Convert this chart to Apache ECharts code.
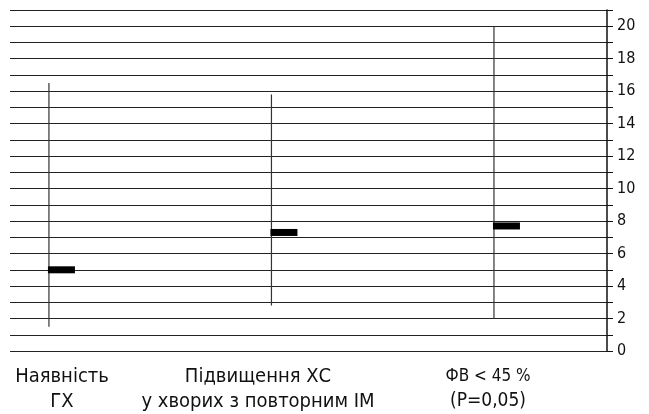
<!DOCTYPE html>
<html>
<head>
<meta charset="utf-8">
<script src="https://cdn.jsdelivr.net/npm/echarts@6/dist/echarts.min.js"></script>
<style>
  html, body { margin: 0; padding: 0; background: #fff; }
  #chart { width: 649px; height: 414px; }
</style>
</head>
<body>
<div id="chart"></div>
<script>
var categories = ['Наявність\nГХ', 'Підвищення ХС\nу хворих з повторним ІМ', '{s|ФВ < 45 %}\n(Р=0,05)'];
var lows = [1.5, 2.8, 2.0];
var highs = [16.5, 15.8, 20.0];
var means = [5.0, 7.3, 7.7];
var yTicks = [0, 2, 4, 6, 8, 10, 12, 14, 16, 18, 20];

var dom = document.getElementById('chart');
var chart = echarts.init(dom);

var data = [];
for (var i = 0; i < categories.length; i++) {
  data.push([i, lows[i], highs[i], means[i]]);
}

var font = '"Liberation Sans Narrow", "DejaVu Sans Condensed", "Noto Sans", sans-serif';

var option = {
  animation: false,
  grid: { left: 10, right: 42, top: 10, bottom: 63 },
  xAxis: {
    type: 'value',
    min: -0.175,
    max: 2.508,
    show: false
  },
  yAxis: {
    type: 'value',
    position: 'right',
    min: 0,
    max: 21,
    interval: 1,
    axisLine: { show: true, onZero: false, lineStyle: { color: '#111', width: 1.5 } },
    axisTick: { show: true, length: 6, lineStyle: { color: '#111' } },
    axisLabel: {
      margin: 10,
      color: '#111',
      fontSize: 16,
      fontFamily: font,
      formatter: function (v) {
        return yTicks.indexOf(v) >= 0 ? String(v) : '';
      }
    },
    splitLine: { show: true, lineStyle: { color: '#222', width: 1.2 } }
  },
  series: [{
    type: 'custom',
    data: data,
    renderItem: function (params, api) {
      var x = api.value(0);
      var lo = api.coord([x, api.value(1)]);
      var hi = api.coord([x, api.value(2)]);
      var m = api.coord([x, api.value(3)]);
      return {
        type: 'group',
        children: [{
          type: 'line',
          shape: { x1: lo[0], y1: lo[1], x2: hi[0], y2: hi[1] },
          style: { stroke: '#333', lineWidth: 1.2 }
        }, {
          type: 'rect',
          shape: { x: m[0] - 1, y: m[1] - 3.5, width: 27, height: 7 },
          style: { fill: '#000' }
        }]
      };
    }
  }]
};

// label positions below the plot (centre x of each text block)
var labelX = [62, 258, 488];
var labelSize = [20, 20, 19];
option.graphic = categories.map(function (c, i) {
  return {
    type: 'text',
    x: labelX[i],
    y: 364,
    style: {
      text: c,
      fill: '#111',
      font: labelSize[i] + 'px ' + font,
      align: 'center',
      verticalAlign: 'top',
      lineHeight: 25,
      rich: {
        s: { fontSize: 17, fontFamily: font, fill: '#111', lineHeight: 25 }
      }
    }
  };
});

chart.setOption(option);
</script>
</body>
</html>
